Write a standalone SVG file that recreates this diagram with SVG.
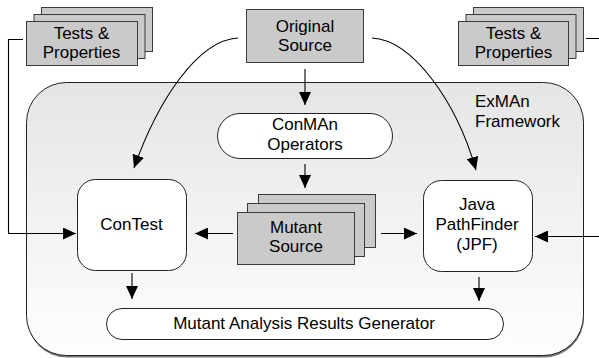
<svg xmlns="http://www.w3.org/2000/svg" width="599" height="358" viewBox="0 0 599 358">
<defs>
<linearGradient id="fg" x1="0" y1="0" x2="0" y2="1">
<stop offset="0" stop-color="#e5e5e5"/>
<stop offset="1" stop-color="#fefefe"/>
</linearGradient>
<marker id="ah" viewBox="0 0 13 12" refX="13" refY="6" markerWidth="13" markerHeight="12" markerUnits="userSpaceOnUse" orient="auto">
<path d="M0,0 L13,6 L0,12 Z" fill="#000"/>
</marker>
<style>
text{font-family:"Liberation Sans",Arial,sans-serif;font-size:17px;fill:#000;text-anchor:middle}
.g{fill:#cacaca;stroke:#3a3a3a;stroke-width:1}
.w{fill:#fff;stroke:#222;stroke-width:1}
.c{fill:none;stroke:#000;stroke-width:1.1}
</style>
</defs>
<g id="framework">
<rect x="27" y="84.5" width="557" height="273" rx="40" fill="#777"/>
<rect x="26.5" y="82.5" width="557" height="273" rx="40" fill="url(#fg)" stroke="#222" stroke-width="1"/>
<text x="475" y="107" style="text-anchor:start">ExMAn</text>
<text x="475" y="127" style="text-anchor:start">Framework</text>
</g>
<g id="tests-left">
<rect class="g" x="41.5" y="7.5" width="111" height="44"/>
<rect class="g" x="34" y="14.5" width="111" height="44"/>
<rect class="g" x="26.5" y="21.5" width="111" height="44"/>
<text x="81.5" y="39">Tests &amp;</text>
<text x="81.5" y="58">Properties</text>
</g>
<g id="tests-right">
<rect class="g" x="473.5" y="7.5" width="110" height="44"/>
<rect class="g" x="466" y="14.5" width="110" height="44"/>
<rect class="g" x="458.5" y="21.5" width="110" height="44"/>
<text x="513.5" y="39">Tests &amp;</text>
<text x="513.5" y="58">Properties</text>
</g>
<g id="original-source">
<rect class="g" x="246.5" y="9.5" width="117" height="53"/>
<text x="305" y="32">Original</text>
<text x="305" y="51">Source</text>
</g>
<g id="conman">
<rect class="w" x="217.5" y="113.5" width="175" height="45" rx="22.5"/>
<text x="305" y="130">ConMAn</text>
<text x="305" y="150">Operators</text>
</g>
<g id="mutant-source">
<rect class="g" x="258.5" y="194.5" width="117" height="53"/>
<rect class="g" x="247.5" y="203.5" width="117" height="53"/>
<rect class="g" x="237.5" y="212.5" width="117" height="52"/>
<text x="296" y="233">Mutant</text>
<text x="296" y="252">Source</text>
</g>
<g id="contest">
<rect class="w" x="77.5" y="179.5" width="109" height="91" rx="18"/>
<text x="131.5" y="230">ConTest</text>
</g>
<g id="jpf">
<rect class="w" x="423.5" y="180.5" width="109" height="91" rx="18"/>
<text x="477" y="210">Java</text>
<text x="477" y="230">PathFinder</text>
<text x="477" y="250">(JPF)</text>
</g>
<g id="results">
<rect class="w" x="106.5" y="308.5" width="397" height="31" rx="15.5"/>
<text x="304" y="329">Mutant Analysis Results Generator</text>
</g>
<g id="connectors">
<path class="c" d="M305,69 V105" marker-end="url(#ah)"/>
<path class="c" d="M305,164 V188" marker-end="url(#ah)"/>
<path class="c" d="M233,233.5 H195" marker-end="url(#ah)"/>
<path class="c" d="M381,233.5 H417" marker-end="url(#ah)"/>
<path class="c" d="M23,39.5 H8.5 V233.5 H76" marker-end="url(#ah)"/>
<path class="c" d="M586,38.5 H602 V236.5 H535" marker-end="url(#ah)"/>
<path class="c" d="M238,38 C198,40 158,100 134,168" marker-end="url(#ah)"/>
<path class="c" d="M372,38 C412,40 456,100 476,170" marker-end="url(#ah)"/>
<path class="c" d="M132,273 V299" marker-end="url(#ah)"/>
<path class="c" d="M479,277 V301" marker-end="url(#ah)"/>
</g>
</svg>
